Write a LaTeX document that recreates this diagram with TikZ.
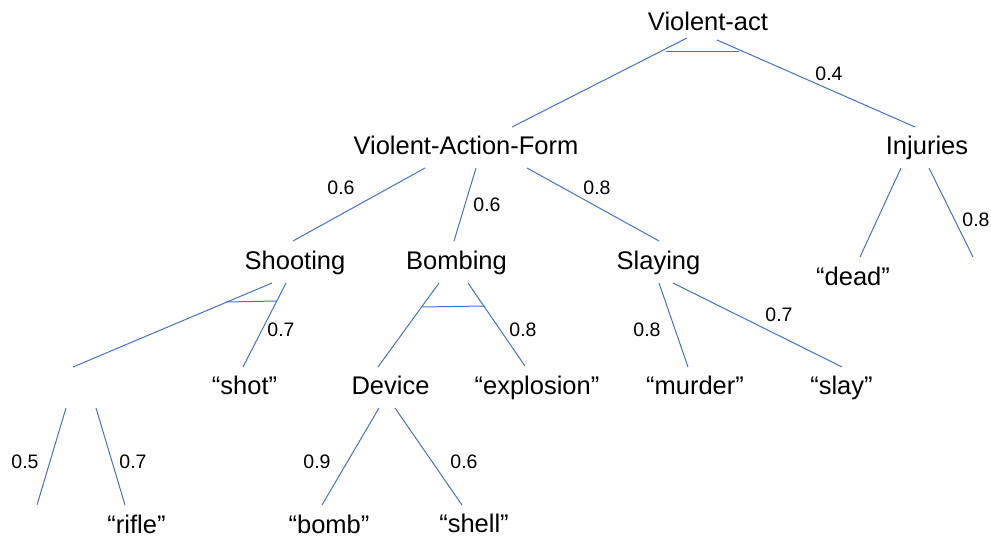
\documentclass[tikz,border=0pt]{standalone}
\usepackage{fontspec}
\setmainfont{Liberation Sans}
\definecolor{linkblue}{HTML}{4472C4}
\begin{document}
\begin{tikzpicture}[x=1pt,y=-1pt,
  term/.style={font=\fontsize{25.5}{30}\selectfont, inner sep=0pt, anchor=base},
  weight/.style={font=\fontsize{19.5}{23}\selectfont, inner sep=0pt, anchor=base},
  link/.style={draw=linkblue, line width=1pt},
  andbar/.style={draw=linkblue, line width=1pt}]
\useasboundingbox (0,0) rectangle (991,537);

% concept and word nodes
\node[term] (va)     at (708,30.5)  {Violent-act};
\node[term] (vaf)    at (466,155)   {Violent-Action-Form};
\node[term] (inj)    at (927,155)   {Injuries};
\node[term] (shoot)  at (295,270)   {Shooting};
\node[term] (bomb)   at (456.5,270) {Bombing};
\node[term] (slay)   at (658.5,270) {Slaying};
\node[term] (dead)   at (853,286)   {“dead”};
\node[term] (shot)   at (244.5,395) {“shot”};
\node[term] (device) at (390.5,395) {Device};
\node[term] (expl)   at (537,395)   {“explosion”};
\node[term] (murder) at (695,395)   {“murder”};
\node[term] (slayw)  at (841.5,395) {“slay”};
\node[term] (rifle)  at (136.5,533) {“rifle”};
\node[term] (bombw)  at (329,533)   {“bomb”};
\node[term] (shell)  at (474,532.5) {“shell”};

% connector ends
\coordinate (va-l)     at (687,38);
\coordinate (va-r)     at (717,40);
\coordinate (vaf-top)  at (512,127);
\coordinate (inj-top)  at (915,127);
\coordinate (inj-l)    at (901,168);
\coordinate (inj-r)    at (929,168);
\coordinate (dead-top) at (860,257);
\coordinate (inj-leaf) at (973,257);
\coordinate (vaf-l)    at (425,168);
\coordinate (vaf-m)    at (476,168);
\coordinate (vaf-r)    at (527,168);
\coordinate (shoot-top) at (293,241);
\coordinate (bomb-top)  at (454,241);
\coordinate (slay-top)  at (659,241);
\coordinate (shoot-l)  at (272,283);
\coordinate (shoot-r)  at (286,283);
\coordinate (gun-top)  at (73,367);
\coordinate (shot-top) at (243,367);
\coordinate (bomb-l)   at (439,283);
\coordinate (bomb-r)   at (468,283);
\coordinate (device-top) at (378,367);
\coordinate (expl-top) at (525,366);
\coordinate (slay-l)   at (659,283);
\coordinate (slay-r)   at (673,283);
\coordinate (murder-top) at (688,367);
\coordinate (slayw-top) at (842,367);
\coordinate (gun-l)    at (66,408);
\coordinate (gun-r)    at (96,408);
\coordinate (gun-leaf) at (37,505);
\coordinate (rifle-top) at (125,505);
\coordinate (device-l) at (379,408);
\coordinate (device-r) at (395,408);
\coordinate (bombw-top) at (322,505);
\coordinate (shell-top) at (462,505);

% links
\draw[link] (va-l) -- (vaf-top);
\draw[link] (va-r) -- (inj-top);
\draw[link] (inj-l) -- (dead-top);
\draw[link] (inj-r) -- (inj-leaf);
\draw[link] (vaf-l) -- (shoot-top);
\draw[link] (vaf-m) -- (bomb-top);
\draw[link] (vaf-r) -- (slay-top);
\draw[link] (shoot-l) -- (gun-top);
\draw[link] (shoot-r) -- (shot-top);
\draw[link] (bomb-l) -- (device-top);
\draw[link] (bomb-r) -- (expl-top);
\draw[link] (slay-l) -- (murder-top);
\draw[link] (slay-r) -- (slayw-top);
\draw[link] (gun-l) -- (gun-leaf);
\draw[link] (gun-r) -- (rifle-top);
\draw[link] (device-l) -- (bombw-top);
\draw[link] (device-r) -- (shell-top);

% conjunction bars
\coordinate (and1-a) at (666,52);  \coordinate (and1-b) at (739,52);
\coordinate (and2-a) at (226,302); \coordinate (and2-b) at (277,301);
\coordinate (and3-a) at (422,307); \coordinate (and3-b) at (485,306);
\draw[andbar] (and1-a) -- (and1-b);
\draw[andbar] (and2-a) -- (and2-b);
\draw[andbar] (and3-a) -- (and3-b);

% weights
\node[weight] (w-inj)    at (829,81)   {0.4};
\node[weight] (w-shoot)  at (341,195)  {0.6};
\node[weight] (w-bomb)   at (487,212)  {0.6};
\node[weight] (w-slay)   at (597,195)  {0.8};
\node[weight] (w-leaf)   at (976,227)  {0.8};
\node[weight] (w-shot)   at (281,337)  {0.7};
\node[weight] (w-expl)   at (523,337)  {0.8};
\node[weight] (w-murder) at (647,337)  {0.8};
\node[weight] (w-slayw)  at (779,322)  {0.7};
\node[weight] (w-gunl)   at (25,468)   {0.5};
\node[weight] (w-rifle)  at (133,468)  {0.7};
\node[weight] (w-bombw)  at (317,468)  {0.9};
\node[weight] (w-shell)  at (464,468)  {0.6};
\end{tikzpicture}
\end{document}
